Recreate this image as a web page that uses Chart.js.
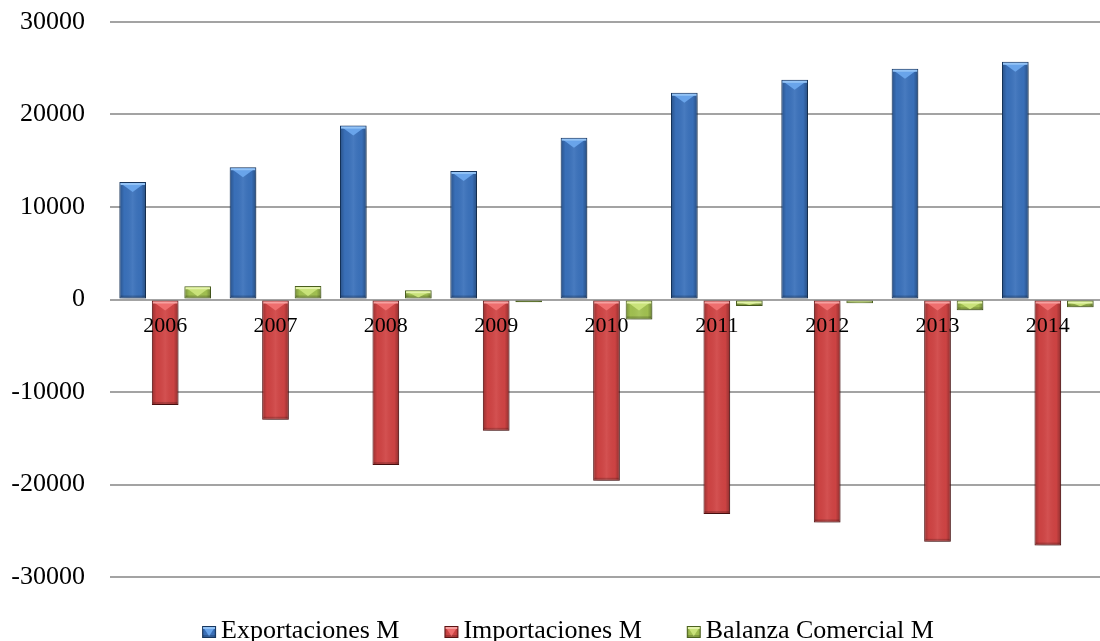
<!DOCTYPE html>
<html>
<head>
<meta charset="utf-8">
<script src="https://cdn.jsdelivr.net/npm/chart.js@4.4.1/dist/chart.umd.min.js"></script>
<style>
  html, body { margin: 0; padding: 0; background: #ffffff; overflow: hidden; }
  #wrap { position: relative; width: 1104px; height: 641px; }
</style>
</head>
<body>
<div id="wrap"><canvas id="chart"></canvas></div>
<script>
// Years on the category axis
const years = ['2006', '2007', '2008', '2009', '2010', '2011', '2012', '2013', '2014'];
// Series values (millions)
const exportaciones = [12700, 14300, 18800, 13900, 17500, 22350, 23750, 24950, 25700];
const importaciones = [-11400, -13000, -17900, -14200, -19600, -23200, -24100, -26200, -26600];
const balanza = [1430, 1450, 1000, -300, -2150, -700, -400, -1170, -850];
// Series names
const seriesNames = ['Exportaciones M', 'Importaciones M', 'Balanza Comercial M'];
// Value axis range and step
const yMin = -30000;
const yMax = 30000;
const yStep = 10000;

const FONT = '"Liberation Serif", "Times New Roman", serif';

// Bevelled fill styles, one per series
const looks = [
  { base: '#3a71bb', border: '#17365e', bevel: '#69a4ea', rim: '#93c3f6' },
  { base: '#d04444', border: '#5a1313', bevel: '#ee6e6e', rim: '#f6a0a0' },
  { base: '#a2c151', border: '#4c6220', bevel: '#c9e27a', rim: '#e4f3ab' }
];

function paintBevel(ctx, l, t, w, h, look) {
  if (h < 1) return;
  ctx.save();
  ctx.beginPath();
  ctx.rect(l + 1, t + 1, w - 2, h - 2);
  ctx.clip();
  // side shading: darker edges, slightly lighter middle
  const g = ctx.createLinearGradient(l, 0, l + w, 0);
  g.addColorStop(0, 'rgba(0,0,0,0.28)');
  g.addColorStop(0.18, 'rgba(0,0,0,0.02)');
  g.addColorStop(0.5, 'rgba(255,255,255,0.07)');
  g.addColorStop(0.82, 'rgba(0,0,0,0.02)');
  g.addColorStop(1, 'rgba(0,0,0,0.32)');
  ctx.fillStyle = g;
  ctx.fillRect(l, t, w, h);
  // darker foot
  ctx.fillStyle = 'rgba(0,0,0,0.18)';
  ctx.fillRect(l, t + h - 3, w, 3);
  // top bevel: triangle facet plus a bright rim
  const th = Math.min(9, Math.max(2, h - 2));
  ctx.fillStyle = look.bevel;
  ctx.beginPath();
  ctx.moveTo(l + 1, t + 1);
  ctx.lineTo(l + w - 1, t + 1);
  ctx.lineTo(l + w / 2, t + 1 + th);
  ctx.closePath();
  ctx.fill();
  ctx.fillStyle = look.rim;
  ctx.fillRect(l + 1, t + 1, w - 2, Math.min(2, h - 2));
  ctx.restore();
}

const bevelBars = {
  id: 'bevelBars',
  beforeDatasetDraw(chart) {
    const ctx = chart.ctx;
    ctx.save();
    ctx.shadowColor = 'rgba(0,0,0,0.30)';
    ctx.shadowBlur = 6;
    ctx.shadowOffsetX = 2;
    ctx.shadowOffsetY = 3;
  },
  afterDatasetDraw(chart, args) {
    const ctx = chart.ctx;
    ctx.restore();
    const look = looks[args.index];
    args.meta.data.forEach(bar => {
      const p = bar.getProps(['x', 'y', 'base', 'width'], true);
      const top = Math.min(p.y, p.base);
      const h = Math.abs(p.base - p.y);
      paintBevel(ctx, p.x - p.width / 2, top, p.width, h, look);
    });
  }
};

// Legend drawn along the bottom edge
const bottomLegend = {
  id: 'bottomLegend',
  afterDraw(chart) {
    const ctx = chart.ctx;
    ctx.save();
    ctx.font = '26px ' + FONT;
    ctx.textBaseline = 'alphabetic';
    ctx.textAlign = 'left';
    const names = chart.data.datasets.map(d => d.label);
    const boxW = 14, boxH = 12, boxGap = 5, itemGap = 45;
    const widths = names.map(n => ctx.measureText(n).width);
    const total = widths.reduce((s, w) => s + boxW + boxGap + w, 0) + itemGap * (names.length - 1);
    let x = 568 - total / 2;
    const baseline = 638;
    names.forEach((name, i) => {
      const look = looks[i];
      ctx.fillStyle = look.border;
      ctx.fillRect(x, baseline - boxH, boxW, boxH);
      ctx.fillStyle = look.base;
      ctx.fillRect(x + 1, baseline - boxH + 1, boxW - 2, boxH - 2);
      paintBevel(ctx, x, baseline - boxH, boxW, boxH, look);
      ctx.fillStyle = '#000000';
      ctx.fillText(name, x + boxW + boxGap, baseline);
      x += boxW + boxGap + widths[i] + itemGap;
    });
    ctx.restore();
  }
};

const series = [exportaciones, importaciones, balanza];

new Chart(document.getElementById('chart'), {
  type: 'bar',
  data: {
    labels: years,
    datasets: series.map((values, i) => ({
      label: seriesNames[i],
      data: values,
      backgroundColor: looks[i].base,
      borderColor: looks[i].border,
      borderWidth: 1,
      borderSkipped: false,
      categoryPercentage: 0.884,
      barPercentage: 0.82
    }))
  },
  options: {
    responsive: true,
    maintainAspectRatio: false,
    animation: false,
    layout: { padding: { top: 22, right: 1, bottom: 64, left: 0 } },
    plugins: {
      legend: { display: false },
      tooltip: { enabled: false }
    },
    scales: {
      x: {
        position: { y: 0 },
        grid: { display: false, drawTicks: false },
        border: { display: false },
        ticks: {
          z: 1,
          color: '#000000',
          font: { family: FONT, size: 22 },
          padding: 14,
          maxRotation: 0
        }
      },
      y: {
        min: yMin,
        max: yMax,
        afterFit(scale) { scale.width = 110; },
        grid: {
          color: '#a3a3a3',
          lineWidth: 2,
          drawTicks: true,
          tickLength: 25,
          tickColor: 'rgba(0,0,0,0)'
        },
        border: { display: false },
        ticks: {
          stepSize: yStep,
          color: '#000000',
          font: { family: FONT, size: 26 },
          padding: 0,
          callback: v => String(v)
        }
      }
    }
  },
  plugins: [bevelBars, bottomLegend]
});
</script>
</body>
</html>
